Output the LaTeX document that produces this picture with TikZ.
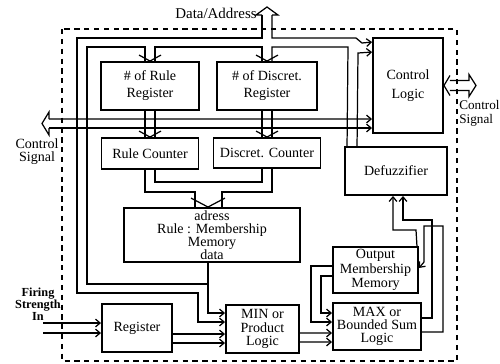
\documentclass[tikz,border=0pt]{standalone}
\usepackage{fontspec}
\setmainfont{Liberation Serif}
\usetikzlibrary{arrows.meta,calc}

\begin{document}
\begin{tikzpicture}[x=0.02cm,y=-0.02cm,
  box/.style={draw,line width=1.1pt,inner sep=0pt,align=center,font=\fontsize{8}{7.6}\selectfont},
  sz/.style 2 args={minimum width=#1*0.02cm,minimum height=#2*0.02cm},
  wire/.style={line width=0.7pt},
  tip/.style={-{Straight Barb[length=2.6pt,width=4.4pt]}},
  lbl/.style={inner sep=0pt,align=center,font=\fontsize{8}{7.4}\selectfont},
  chev/.pic={\draw[wire] (-11,-6) -- (0,0) -- (11,-6);},
  chevw/.pic={\draw[wire] (-17,-9) -- (0,0) -- (17,-9);},
]
\useasboundingbox (0,0) rectangle (500,363);

% chip boundary
\draw[line width=0.7pt,dash pattern=on 3pt off 2.6pt] (62,29) rectangle (457,361);

% functional blocks
\node[box,sz={98}{48},font=\fontsize{8}{9.7}\selectfont] (rreg) at (150,86) {\# of Rule\\Register};
\node[box,sz={100}{48},font=\fontsize{8}{9.7}\selectfont] (dreg) at (267,86) {\# of Discret.\\Register};
\node[box,sz={97}{31}] (rcnt) at (150,153.5) {Rule Counter};
\node[box,sz={107}{30}] (dcnt) at (267,153) {Discret. Counter};
\node[box,sz={70}{95},font=\fontsize{8}{10.8}\selectfont] (ctrl) at (408,85.5) {Control\\Logic};
\node[box,sz={102}{48}] (defz) at (396,171) {Defuzzifier};
\node[box,sz={176}{54},font=\fontsize{8}{7.4}\selectfont] (mem) at (212,235) {adress\\Rule : Membership\\Memory\\data};
\node[box,sz={70}{48}] (reg) at (137,328) {Register};
\node[box,sz={73}{48}] (minl) at (262.5,329) {MIN or\\Product\\Logic};
\node[box,sz={85}{46},font=\fontsize{8}{8.2}\selectfont] (omm) at (375.5,270) {Output\\Membership\\Memory};
\node[box,sz={88}{47}] (maxl) at (377,326.5) {MAX or\\Bounded Sum\\Logic};

% outside labels
\node[lbl,anchor=east,font=\fontsize{8.5}{9}\selectfont] (dalbl) at (257,13) {Data/Address};
\node[lbl] (csl) at (37,151.5) {Control\\Signal};
\node[lbl,align=left,anchor=west,font=\fontsize{7.5}{8}\selectfont] (csr) at (459,113) {Control\\Signal};
\node[lbl,font=\bfseries\fontsize{7}{6.8}\selectfont] (fsl) at (38,304) {Firing\\Strength\\In};

% data / address bus entering from the top
\coordinate (datop) at (267,15);
\draw[wire] ($(datop)+(-5,0)$) -- ++(-6,0) -- ($(datop)+(0,-8)$) -- ($(datop)+(11,0)$) -- ($(datop)+(5,0)$);
\draw[wire,tip] ($(datop)+(-5,0)$) -- (262,38) -- (77,38) -- (77,293) -- (198,293) -- (198,322) -- ($(minl.west)+(0,-7)$);
\draw[wire] (208,284) -- (87,284) -- (87,47) -- (145,47) -- ($(rreg.north)+(-5,0)$);
\draw[wire] ($(rreg.north)+(5,0)$) -- (155,47) -- (262,47) -- ($(dreg.north)+(-5,0)$);
\draw[wire] ($(dreg.north)+(5,0)$) -- (272,47) -- (348,47) -- ($(defz.north west)+(3,0)$);
\draw[wire,tip] ($(datop)+(5,0)$) -- (272,38) -- (356,38) -- (362,43) -- ($(ctrl.north west)+(0,5)$);
\draw[wire,tip] ($(defz.north west)+(13,0)$) -- (358,53) -- ($(ctrl.north west)+(0,15)$);
\pic at (rreg.north) {chev};
\pic at (dreg.north) {chev};

% registers to counters
\draw[wire] ($(rreg.south)+(-5,0)$) -- ($(rcnt.north)+(-5,0)$);
\draw[wire] ($(rreg.south)+(5,0)$) -- ($(rcnt.north)+(5,0)$);
\draw[wire] ($(dreg.south)+(-5,0)$) -- ($(dcnt.north)+(-5,0)$);
\draw[wire] ($(dreg.south)+(5,0)$) -- ($(dcnt.north)+(5,0)$);
\pic at (rcnt.north) {chev};
\pic at (dcnt.north) {chev};

% counters to rule / membership memory
\draw[wire] ($(rcnt.south)+(5,0)$) -- (155,182) -- (262,182) -- ($(dcnt.south)+(-5,0)$);
\draw[wire] ($(rcnt.south)+(-5,0)$) -- (145,192) -- (195,192) -- ($(mem.north)+(-17,0)$);
\draw[wire] ($(dcnt.south)+(5,0)$) -- (272,192) -- (222,192) -- ($(mem.north)+(10,0)$);
\pic at ($(mem.north)+(-4,0)$) {chevw};

% control signal bus
\coordinate (csig) at (42,123.5);
\draw[wire] ($(csig)+(7,-4.5)$) -- ++(0,-7) -- (csig) -- ($(csig)+(7,11.5)$) -- ($(csig)+(7,4.5)$);
\draw[wire,tip] ($(csig)+(7,-4.5)$) -- ($(ctrl.west)+(0,33.5)$);
\draw[wire,tip] ($(csig)+(7,4.5)$) -- ($(ctrl.west)+(0,42.5)$);

% control signal port on the right
\coordinate (csout) at (476,85.5);
\draw[wire] ($(ctrl.east)+(6,-10)$) -- (ctrl.east) -- ($(ctrl.east)+(6,10)$);
\draw[wire] ($(ctrl.east)+(6,-5)$) -- ($(csout)+(-7,-5)$) -- ($(csout)+(-7,-11)$) -- (csout) -- ($(csout)+(-7,11)$) -- ($(csout)+(-7,5)$) -- ($(ctrl.east)+(6,5)$);

% firing strength input
\coordinate (fin) at (43,328);
\draw[wire,tip] ($(fin)+(0,-5)$) -- ($(reg.west)+(0,-5)$);
\draw[wire,tip] ($(fin)+(0,5)$) -- ($(reg.west)+(0,5)$);

% data path
\draw[wire,tip] ($(reg.east)+(0,6)$) -- ($(minl.west)+(0,5)$);
\draw[wire,tip] ($(reg.east)+(0,15)$) -- ($(minl.west)+(0,14)$);
\draw[wire,tip] ($(mem.south)+(-4,0)$) -- (208,313) -- ($(minl.west)+(0,-16)$);
\draw[wire,tip] ($(minl.east)+(0,4)$) -- ($(maxl.west)+(0,6.5)$);
\draw[wire,tip] ($(minl.east)+(0,13)$) -- ($(maxl.west)+(0,15.5)$);
\draw[wire,tip] ($(omm.west)+(0,-4)$) -- (311,266) -- (311,322) -- ($(maxl.west)+(0,-4.5)$);
\draw[wire,tip] ($(omm.west)+(0,6)$) -- (321,276) -- (321,313) -- ($(maxl.west)+(0,-13.5)$);

% accumulation loop and defuzzifier input
\draw[wire,tip] ($(maxl.east)+(0,-8.5)$) -- (432,318) -- (432,220) -- (403,220) -- ($(defz.south)+(7,0)$);
\draw[wire,tip] ($(maxl.east)+(0,5.5)$) -- (443,332) -- (443,226) -- (424,226) -- (424,262) -- ($(omm.east)+(0,-2)$);
\draw[wire,tip] ($(omm.north east)+(-2,0)$) -- (416,230) -- (393,230) -- ($(defz.south)+(-3,0)$);
\end{tikzpicture}
\end{document}
